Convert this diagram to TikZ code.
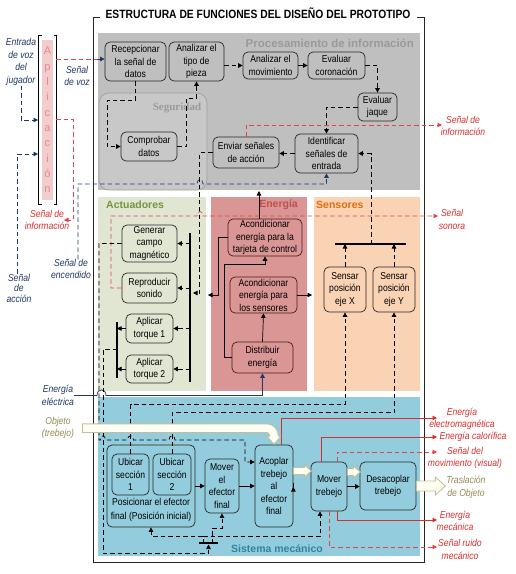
\documentclass[tikz,border=0pt]{standalone}
\usepackage{fontspec}
\setmainfont{Liberation Sans}
\newfontfamily\narrowsf{Liberation Sans}[FakeStretch=0.86]
\newfontfamily\seriffam{Liberation Serif}
\usetikzlibrary{arrows.meta,calc}

\definecolor{procfill}{HTML}{BFBFBF}
\definecolor{segfill}{HTML}{C8C8C8}
\definecolor{segline}{HTML}{A0A0A0}
\definecolor{proctxt}{HTML}{9A9A9A}
\definecolor{actfill}{HTML}{E1E6D2}
\definecolor{acttxt}{HTML}{77933C}
\definecolor{enefill}{HTML}{D99694}
\definecolor{enetxt}{HTML}{C0504D}
\definecolor{eneline}{HTML}{4A1A18}
\definecolor{senfill}{HTML}{FAD3B4}
\definecolor{sentxt}{HTML}{E46C0A}
\definecolor{mecfill}{HTML}{93CDDD}
\definecolor{mectxt}{HTML}{31859C}
\definecolor{aplfill}{HTML}{F2CDCD}
\definecolor{apltxt}{HTML}{E68A8A}
\definecolor{navyc}{HTML}{1F3864}
\definecolor{redc}{HTML}{D92E2E}
\definecolor{redl}{HTML}{E04646}
\definecolor{olivetxt}{HTML}{948A54}
\definecolor{flowedge}{HTML}{C4BD97}
\definecolor{flowfill}{HTML}{FFFFF4}
\definecolor{boxline}{HTML}{262626}

\newcommand{\boxfont}{\narrowsf\fontsize{10}{12.5}\selectfont}
\newcommand{\lblfont}{\narrowsf\itshape\fontsize{10}{12.5}\selectfont}
% hollow block arrow: start, shaft, half band, half tip, tip length
\newcommand{\flowarr}[5]{%
  \draw[flow] #1 ++(0,-#3) -- ++(#2,0) -- ++(0,#3-#4) -- ++(#5,#4)
    -- ++(-#5,#4) -- ++(0,#3-#4) -- ++(-#2,0) -- cycle;}

\begin{document}
\begin{tikzpicture}[x=1pt, y=-1pt,
  box/.style={draw=boxline, line width=0.7pt, rounded corners=5pt,
    align=center, inner sep=1pt, font=\boxfont},
  ebox/.style={box, draw=eneline},
  arr/.style={-{Triangle[length=4.5pt, width=4.5pt]}, line width=0.7pt},
  dsh/.style={dash pattern=on 4.5pt off 3pt},
  lbl/.style={font=\lblfont, align=center, inner sep=0pt},
  ttl/.style={font=\bfseries\fontsize{10.5}{12}\selectfont, inner sep=0pt},
  flow/.style={draw=flowedge, fill=flowfill, line width=0.8pt},
  bar/.style={line width=1.4pt},
]
\useasboundingbox (0,0) rectangle (515,574);

% =============================================================================
% Frame, title and areas
% =============================================================================
\fill[procfill] (98,33) rectangle (420,190);
\draw[segline, fill=segfill, rounded corners=10pt, line width=0.7pt] (99,93) rectangle (207,190);
\fill[actfill] (98,197) rectangle (206,391);
\fill[enefill] (211,197) rectangle (307,391);
\fill[senfill] (314,197) rectangle (420,391);
\fill[mecfill] (98,397) rectangle (420,556);

\node[font=\narrowsf\bfseries\fontsize{12}{14}\selectfont, inner sep=0pt] (title) at (258,13)
  {ESTRUCTURA DE FUNCIONES DEL DISEÑO DEL PROTOTIPO};
\draw[line width=0.8pt, draw=boxline] (100,17) -- (93,17) -- (93,562) -- (424,562) -- (424,17) -- (417,17);

\node[ttl, text=proctxt, anchor=east, font=\bfseries\fontsize{11.5}{13}\selectfont] (proct) at (414,43) {Procesamiento de información};
\node[text=proctxt, inner sep=0pt, font=\seriffam\bfseries\fontsize{11}{13}\selectfont] (segt) at (177,108) {Seguridad};
\node[ttl, text=acttxt, anchor=west] (actt) at (106,205) {Actuadores};
\node[ttl, text=enetxt, anchor=east] (enet) at (298,205) {Energía};
\node[ttl, text=sentxt, anchor=west] (sent) at (316,205) {Sensores};
\node[ttl, text=mectxt] (mect) at (277,549) {Sistema mecánico};

% =============================================================================
% Aplicacion and outside signals
% =============================================================================
\node[fill=aplfill, minimum width=11, minimum height=160, inner sep=0pt, text=apltxt,
  font=\fontsize{11}{15.3}\selectfont, align=center] (apl) at (47.5,120)
  {A\\p\\l\\i\\c\\a\\c\\i\\ó\\n};
\draw[line width=0.8pt] (41.5,35) -| (38,204) -- (41.5,204);
\draw[line width=0.8pt] (53.5,35) -| (56,204) -- (53.5,204);

\node[lbl, text=navyc] (ljug) at (21,62) {Entrada\\de voz\\del\\jugador};
\node[lbl, text=navyc] (lvoz) at (77,76) {Señal\\de voz};
\node[lbl, text=redc] (linfo) at (47,220) {Señal de\\información};
\node[lbl, text=navyc] (lenc) at (71,269) {Señal de\\[-1pt]encendido};
\node[lbl, text=navyc] (lacc) at (19,288) {Señal\\[-2pt]de\\[-2pt]acción};
\node[lbl, text=navyc] (leel) at (58,395.5) {Energía\\eléctrica};
\node[lbl, text=olivetxt] (lobj) at (58,428) {Objeto\\(trebejo)};

\coordinate (jugin) at (38,120);
\coordinate (accin) at (38,154);
\coordinate (voz) at (56,59);
\coordinate (infoapl) at (56,119);
\coordinate (infoend) at (64,220);

\draw[navyc, arr, dsh] (ljug.south) |- (jugin);
\draw[navyc, arr, dsh] ($(lacc.north)+(-2,0)$) |- (accin);
\draw[redl, dsh, line width=0.7pt] (voz) -- ++(41,0) coordinate (vozb);
\draw[redl, arr, dsh] (infoapl) -- ++(17,0) |- (infoend);

% =============================================================================
% Procesamiento de informacion
% =============================================================================
\node[box, minimum width=61, minimum height=39] (recep) at (135.5,61.5) {Recepcionar\\la señal de\\datos};
\node[box, minimum width=55, minimum height=39] (tipo) at (196.5,61.5) {Analizar el\\tipo de\\pieza};
\node[box, minimum width=55, minimum height=27] (movim) at (270.5,65.5) {Analizar el\\movimiento};
\node[box, minimum width=57, minimum height=27] (coron) at (336.5,65.5) {Evaluar\\coronación};
\node[box, minimum width=39, minimum height=28] (jaque) at (377.5,107) {Evaluar\\jaque};
\node[box, minimum width=63, minimum height=39] (ident) at (326.5,153.5) {Identificar\\señales de\\entrada};
\node[box, minimum width=66, minimum height=31] (enviar) at (246,152.5) {Enviar señales\\de acción};
\node[box, minimum width=56, minimum height=29] (compr) at (149,146.5) {Comprobar\\datos};

\draw[navyc, arr] (vozb) -- (vozb -| recep.west);
\draw[arr, dsh] (recep.south) -- ++(0,19) -- ++(-28.5,0) |- (compr.west);
\draw[arr, dsh] (compr.east) -- ++(9,0) |- ($(tipo.south)+(0,16.5)$) -- (tipo.south);
\draw[arr, dsh] (tipo.east |- movim.west) -- (movim.west);
\draw[arr] (movim.east) -- (coron.west);
\draw[arr, dsh] (coron.east) -| (jaque.north);
\draw[arr, dsh] (jaque.west) -| (ident.north);
\draw[arr, dsh] (ident.west) -- (ident.west -| enviar.east);

\coordinate (infotip) at (442,125);
\node[lbl, text=redc] (linfo2) at (463,126) {Señal de\\información};
\draw[redl, arr, dsh] (enviar.north) |- (infotip);

% encendido: hop over the action line
\draw[navyc, arr, dsh] ($(lenc.north)+(7,0)$) -- (78,184) -- (197,184)
  .. controls (197,178) and (203,178) .. (203,184) -| (ident.south);

% =============================================================================
% Actuadores
% =============================================================================
\node[box, minimum width=55, minimum height=37] (gcm) at (149.5,243.5) {Generar\\campo\\magnético};
\node[box, minimum width=55, minimum height=30] (sonido) at (149.5,288) {Reproducir\\sonido};
\node[box, minimum width=47, minimum height=29] (tqa) at (149.5,328.5) {Aplicar\\torque 1};
\node[box, minimum width=47, minimum height=28] (tqb) at (149.5,369) {Aplicar\\torque 2};

\coordinate (abarT) at (190,233);
\coordinate (abarB) at (190,382);
\coordinate (tbarT) at (117,322);
\coordinate (tbarB) at (117,378);
\draw[bar] (abarT) -- (abarB);
\draw[bar] (tbarT) -- (tbarB);
\foreach \act in {gcm,sonido,tqa,tqb}
  \draw[arr, dsh] (abarT |- \act.east) -- (\act.east);
\draw[arr, dsh] (tqa.west) -- (tqa.west -| tbarT);
\draw[arr, dsh] (tqb.west) -- (tqb.west -| tbarT);

\coordinate (actin) at (193,293);
\draw[arr, dsh] (enviar.west) -| ++(-13,140.5) -- (actin);

% sonora: hop over the action line
\coordinate (sonotip) at (438,216);
\node[lbl, text=redc] (lson) at (452,219.5) {Señal\\sonora};
\draw[redl, arr, dsh] (sonido.west) -- (111,288) -- (111,216) -- (197,216)
  .. controls (197,210) and (203,210) .. (203,216) -- (sonotip);

% =============================================================================
% Energia
% =============================================================================
\node[ebox, minimum width=74, minimum height=37] (acT) at (265,237.5) {Acondicionar\\energía para la\\tarjeta de control};
\node[ebox, minimum width=67, minimum height=36] (acS) at (263.5,295) {Acondicionar\\energía para\\los sensores};
\node[ebox, minimum width=61, minimum height=31] (distr) at (262.5,357.5) {Distribuir\\energía};

\coordinate (senin) at (312,295);
\coordinate (actpow) at (208,295);
\coordinate (procin) at (259,191);
\draw[arr] (distr.north) -- (acS.south);
\draw[arr] (acS.east) -- (senin);
\draw[arr] (distr.west) -- ++(-7,0) |- ($(acT.south)+(0,8)$) -- (acT.south);
\draw[arr] (acT.west) -- ++(-9,0) |- (actpow);
\draw[arr] (acT.north -| procin) -- (procin);

\draw[navyc, arr] (leel.east) -- (97,395.5) .. controls (97,388) and (106,388) .. (106,395.5) -| (distr.south);

% =============================================================================
% Sensores
% =============================================================================
\node[box, minimum width=42, minimum height=45] (sX) at (345,289.5) {Sensar\\posición\\eje X};
\node[box, minimum width=42, minimum height=45] (sY) at (394,289.5) {Sensar\\posición\\eje Y};

\coordinate (sbarL) at (335,244);
\coordinate (sbarR) at (406,244);
\coordinate (sbarc) at (371,244);
\draw[bar] (sbarL) -- (sbarR);
\draw[arr, dsh] (sX.north) -- (sX.north |- sbarL);
\draw[arr, dsh] (sY.north) -- (sY.north |- sbarL);
\draw[arr, dsh] (sbarc) |- (ident.east);

% =============================================================================
% Sistema mecanico
% =============================================================================
\node[box, minimum width=88, minimum height=82] (pos) at (151,486) {};
\node[box, minimum width=37, minimum height=41] (ubA) at (130.5,474.5) {Ubicar\\sección\\1};
\node[box, minimum width=38, minimum height=41] (ubB) at (172,474.5) {Ubicar\\sección\\2};
\node[font=\boxfont, align=center, inner sep=0pt] (posl) at (151,510) {Posicionar el efector\\[1.5pt]final (Posición inicial)};
\node[box, minimum width=34, minimum height=54] (mef) at (222,486) {Mover\\el\\efector\\final};
\node[box, minimum width=38, minimum height=82] (acopl) at (274,486) {Acoplar\\trebejo\\al\\efector\\final};
\node[box, minimum width=36, minimum height=49] (mtr) at (329,486.5) {Mover\\trebejo};
\node[box, minimum width=56, minimum height=48] (desac) at (388,486) {Desacoplar\\trebejo};

\draw[arr] (pos.east) -- (mef.west);
\draw[arr] (mef.east) -- (acopl.west);
\draw[arr] ($(acopl.east)+(0,1)$) -- ($(acopl.east)+(0,1)$ -| mtr.west);
\draw[arr] (mtr.east) -- (mtr.east -| desac.west);

% position feedback to the sensors
\draw[arr, dsh] (ubA.north) -- ++(0,-49) -| (sX.south);
\draw[arr, dsh] (ubB.north) -- ++(0,-41) -| (sY.south);

% magnetic field to coupling (hops over the verticals)
\draw[arr, dsh] (gcm.west) -- (99,243.5) -- (99,440) -- (100.5,440)
  .. controls (100.5,434.5) and (105.5,434.5) .. (105.5,440) -- (127.5,440)
  .. controls (127.5,434.5) and (133.5,434.5) .. (133.5,440) -- (169,440)
  .. controls (169,434.5) and (175,434.5) .. (175,440) -- (245,440)
  |- ($(acopl.west)+(0,-24)$);

% torque to the moving functions
\coordinate (tout) at (117,349);
\coordinate (tjoin) at (208.5,544.5);
\coordinate (tickA) at (203,543);
\coordinate (tickAt) at (203,536);
\coordinate (tickB) at (212,543);
\draw[bar] (199,543) -- (218,543);
\draw[arr, dsh] (tout) -| (103,553) -| (tjoin);
\draw[arr, dsh] (tickA) -- (tickAt) -| (pos.south);
\draw[arr, dsh] (tickAt) -| ($(mtr.south)+(-9,0)$);
\draw[arr, dsh] (tickB) -- ++(0,-15) -| (mef.south);

% outputs of the mechanical system
\coordinate (emtip) at (437,418);
\coordinate (caltip) at (437,437);
\coordinate (vistip) at (437,452);
\coordinate (mectip) at (437,520);
\coordinate (ruitip) at (437,547);
\node[lbl, text=redc] (lem) at (462,419) {Energía\\electromagnética};
\node[lbl, text=redc] (lcal) at (473,437) {Energía calorífica};
\node[lbl, text=redc] (lvis) at (465,458) {Señal del\\movimiento (visual)};
\node[lbl, text=olivetxt] (ltras) at (466,487.5) {Traslación\\de Objeto};
\node[lbl, text=redc] (lmec) at (455,521) {Energía\\mecánica};
\node[lbl, text=redc] (lrui) at (460,549.5) {Señal ruido\\mecánico};

\draw[redc, arr] ($(acopl.north)+(7,0)$) |- (emtip);
\draw[redc, arr] ($(mtr.north)+(-8,0)$) |- (caltip);
\draw[redl, arr, dsh] ($(mtr.north)+(8,0)$) |- (vistip);
\draw[redc, arr] ($(mtr.south)+(8,0)$) |- (mectip);
\draw[redl, arr, dsh] (mtr.south) |- (ruitip);

% object flow
\draw[flowedge, line width=9.5pt, rounded corners=8pt]
  ($(lobj.east)+(8,0)$) -- (acopl.north |- lobj.east) -- ($(acopl.north)+(0,-8)$);
\draw[flow] ($(acopl.north)+(-7,-8.5)$) -- ++(14,0) -- ($(acopl.north)+(0,-0.5)$) -- cycle;
\draw[flowfill, line width=7.5pt, rounded corners=8pt]
  ($(lobj.east)+(9,0)$) -- (acopl.north |- lobj.east) -- ($(acopl.north)+(0,-7.5)$);

\flowarr{($(acopl.east)+(0,-15)$)}{11}{3.5}{6}{7}
\flowarr{($(mtr.east)+(0,-14.5)$)}{6}{3.5}{6}{7}
\flowarr{(desac.east)}{19}{5}{9}{10}

\end{tikzpicture}
\end{document}
